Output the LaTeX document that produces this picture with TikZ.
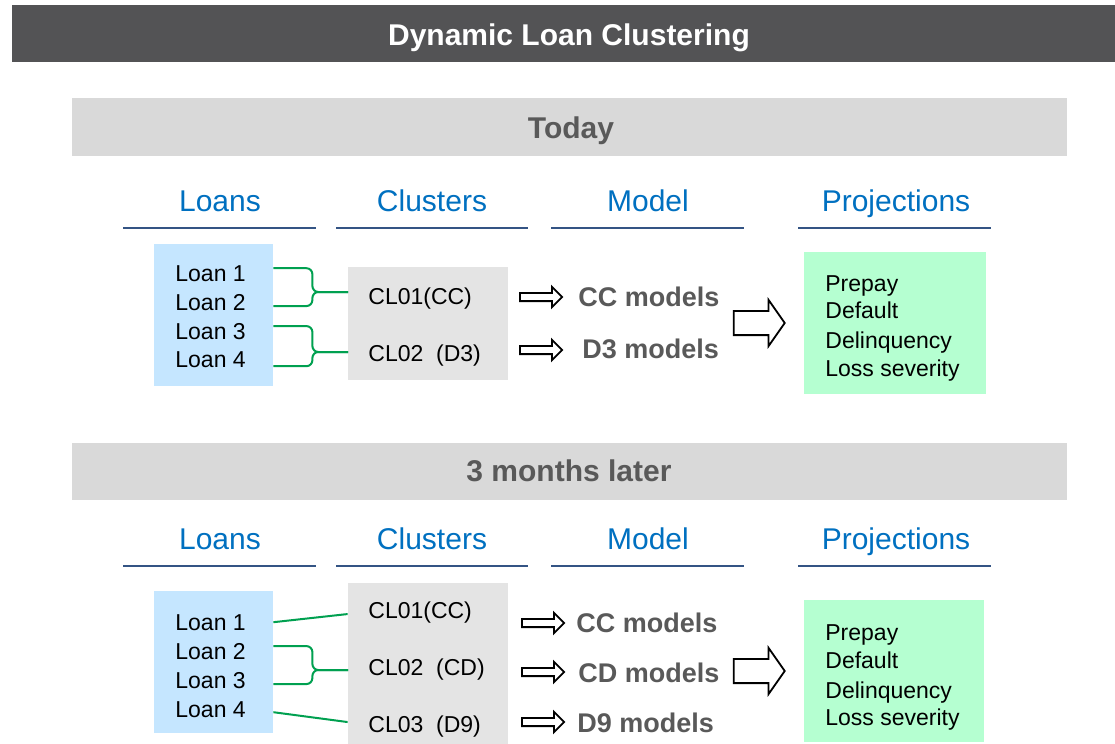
\documentclass[tikz,border=0pt]{standalone}
\usepackage{fontspec}
\setmainfont{Liberation Sans}
\usetikzlibrary{shapes.arrows,calc}

\definecolor{titlegray}{RGB}{83,83,85}
\definecolor{bargray}{RGB}{217,217,217}
\definecolor{boxgray}{RGB}{228,228,228}
\definecolor{loanblue}{RGB}{197,230,255}
\definecolor{projgreen}{RGB}{181,255,209}
\definecolor{headblue}{RGB}{0,112,192}
\definecolor{ruleblue}{RGB}{52,84,132}
\definecolor{textgray}{RGB}{89,89,89}
\definecolor{linkgreen}{RGB}{0,160,80}

\begin{document}
\begin{tikzpicture}[x=0.5pt, y=-0.5pt,
    box/.style={inner sep=0, draw=none},
    titletxt/.style={anchor=base, yshift=-5.4pt, text=white, font=\fontsize{15}{18}\selectfont\bfseries},
    bartxt/.style={anchor=base, yshift=-5.4pt, text=textgray, font=\fontsize{15}{18}\selectfont\bfseries},
    head/.style={anchor=base, yshift=-5.3pt, text=headblue, font=\fontsize{15}{18}\selectfont},
    rule/.style={ruleblue, line width=1.4pt},
    item/.style={anchor=base west, yshift=-4pt, inner sep=0, font=\fontsize{11.5}{13}\selectfont},
    model/.style={anchor=base west, yshift=-4.8pt, inner sep=0, text=textgray, font=\fontsize{13.5}{16}\selectfont\bfseries},
    link/.style={linkgreen, line width=1pt, rounded corners=3pt},
    smallarr/.style={single arrow, draw=black, fill=white, line width=0.9pt, inner xsep=0, inner ysep=1.6pt,
      minimum height=21pt, single arrow head extend=3pt},
    bigarr/.style={single arrow, draw=black, fill=white, line width=0.9pt, inner xsep=0, inner ysep=5.6pt,
      minimum height=25.5pt, single arrow head extend=5.5pt, single arrow tip angle=110}
  ]
  \useasboundingbox (0,0) rectangle (1115,744);

  % title and section bars
  \fill[titlegray] (12,5) rectangle (1115,62);
  \node[titletxt] (title) at (569,35) {Dynamic Loan Clustering};
  \fill[bargray] (72,98) rectangle (1067,156);
  \node[bartxt] (today) at (571,128) {Today};
  \fill[bargray] (72,443) rectangle (1067,500);
  \node[bartxt] (later) at (569,471) {3 months later};

  \foreach \s/\y in {A/201,B/539}{
    \node[head] (hl\s) at (220,\y) {Loans};
    \node[head] (hc\s) at (432,\y) {Clusters};
    \node[head] (hm\s) at (648,\y) {Model};
    \node[head] (hp\s) at (896,\y) {Projections};
    \draw[rule] (123,\y+27) -- (316,\y+27);
    \draw[rule] (336,\y+27) -- (528,\y+27);
    \draw[rule] (551,\y+27) -- (744,\y+27);
    \draw[rule] (798,\y+27) -- (991,\y+27);
  }

  % today
  \node[box, fill=loanblue, minimum width=59.5pt, minimum height=71pt] (loansA) at (213.5,315) {};
  \node[box, fill=boxgray, minimum width=80pt, minimum height=56.5pt] (clusA) at (428,323.5) {};
  \node[box, fill=projgreen, minimum width=91pt, minimum height=71pt] (projA) at (895,323) {};

  \node[item] (a1) at (175,273) {Loan 1};
  \node[item] (a2) at (175,302) {Loan 2};
  \node[item] (a3) at (175,331) {Loan 3};
  \node[item] (a4) at (175,359) {Loan 4};
  \node[item] (c1) at (368,296) {CL01(CC)};
  \node[item] (c2) at (368,353) {CL02~~(D3)};

  \coordinate (jA1) at (348,292);
  \coordinate (jA2) at (348,352);
  \draw[link] ($(loansA.east |- a1)+(0,-5)$) -- ++(39,0) |- (jA1);
  \draw[link] ($(loansA.east |- a2)+(0,4)$) -- ++(39,0) |- (jA1);
  \draw[link] ($(loansA.east |- a3)+(0,-5)$) -- ++(39,0) |- (jA2);
  \draw[link] ($(loansA.east |- a4)+(0,7)$) -- ++(39,0) |- (jA2);

  \node[smallarr] (mA1) at (539,297) {};
  \node[smallarr] (mA2) at (539,350) {};
  \node[model] (tA1) at (578,297) {CC models};
  \node[model] (tA2) at (582,349) {D3 models};
  \node[bigarr] (pA) at (755,323) {};

  \node[item] (pA1) at (825,283) {Prepay};
  \node[item] (pA2) at (825,310) {Default};
  \node[item] (pA3) at (825,340) {Delinquency};
  \node[item] (pA4) at (825,368) {Loss severity};

  % 3 months later
  \node[box, fill=loanblue, minimum width=59.5pt, minimum height=71pt] (loansB) at (213.5,662) {};
  \node[box, fill=boxgray, minimum width=80pt, minimum height=80.5pt] (clusB) at (428,663.5) {};
  \node[box, fill=projgreen, minimum width=90pt, minimum height=71pt] (projB) at (894,671) {};

  \node[item] (b1) at (175,622) {Loan 1};
  \node[item] (b2) at (175,651) {Loan 2};
  \node[item] (b3) at (175,680) {Loan 3};
  \node[item] (b4) at (175,709) {Loan 4};
  \node[item] (d1) at (368,610) {CL01(CC)};
  \node[item] (d2) at (368,667) {CL02~~(CD)};
  \node[item] (d3) at (368,724) {CL03~~(D9)};

  \coordinate (jB2) at (348,670);
  \draw[link] (loansB.east |- b1) -- ($(clusB.west |- d1)+(0,2)$);
  \draw[link] ($(loansB.east |- b2)+(0,-5)$) -- ++(39,0) |- (jB2);
  \draw[link] ($(loansB.east |- b3)+(0,4)$) -- ++(39,0) |- (jB2);
  \draw[link] ($(loansB.east |- b4)+(0,3)$) -- ($(clusB.west |- d3)+(0,-4)$);

  \node[smallarr] (mB1) at (541,623) {};
  \node[smallarr] (mB2) at (541,672) {};
  \node[smallarr] (mB3) at (541,722) {};
  \node[model] (tB1) at (576,623) {CC models};
  \node[model] (tB2) at (578,673) {CD models};
  \node[model] (tB3) at (577,723) {D9 models};
  \node[bigarr] (pB) at (755,671) {};

  \node[item] (pB1) at (825,632) {Prepay};
  \node[item] (pB2) at (825,660) {Default};
  \node[item] (pB3) at (825,690) {Delinquency};
  \node[item] (pB4) at (825,717) {Loss severity};
\end{tikzpicture}
\end{document}
